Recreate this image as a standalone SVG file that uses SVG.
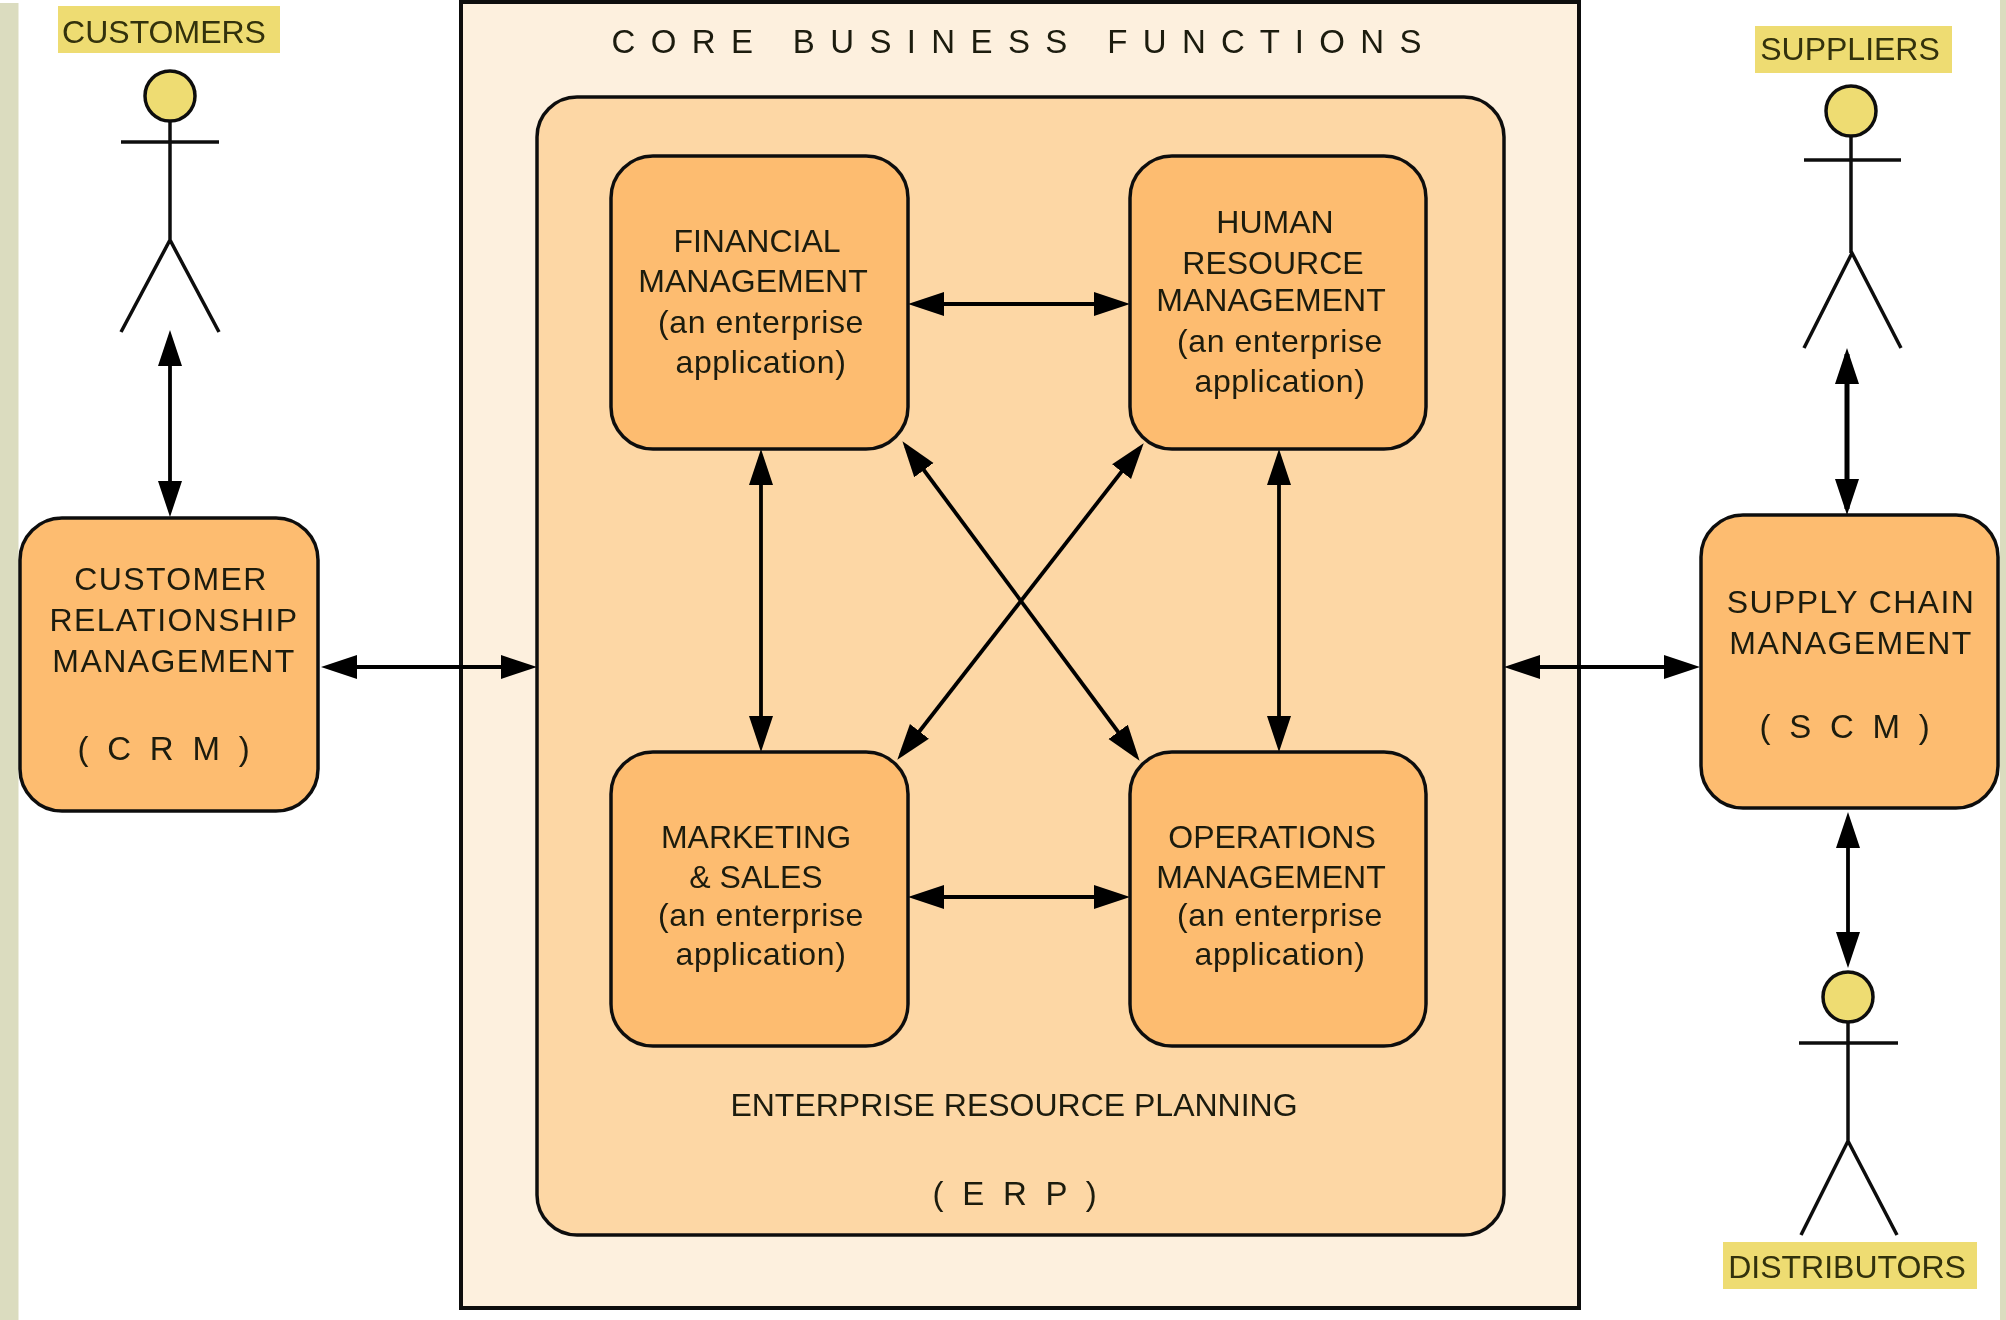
<svg xmlns="http://www.w3.org/2000/svg" width="2006" height="1320" viewBox="0 0 2006 1320">
<style>
text{font-family:"Liberation Sans",Arial,sans-serif;font-size:32px;fill:#1a1a10;text-anchor:middle}
.lc{letter-spacing:.6px}
.w{letter-spacing:1.400px}
.lab{font-size:32px;fill:#33300a}
.sp{white-space:pre;font-size:33px;letter-spacing:4.800px}
.title{white-space:pre;font-size:33px;letter-spacing:3.100px}
.box{fill:#fdbc6f;stroke:#111;stroke-width:3.5}
.tag{fill:#eedc72}
.head{fill:#eedc72;stroke:#111;stroke-width:3.5}
.fig{fill:none;stroke:#111;stroke-width:3.5}
.c{fill:none;stroke:#000;stroke-width:3.8;marker-start:url(#a);marker-end:url(#a)}
.c2{stroke-width:5}
</style>
<defs>
<marker id="a" markerUnits="userSpaceOnUse" markerWidth="40" markerHeight="30" refX="30" refY="15" orient="auto-start-reverse"><path d="M0 3L36 15L0 27Z" fill="#000"/></marker>
<filter id="soft" x="0" y="0" width="100%" height="100%"><feGaussianBlur stdDeviation="0.6"/></filter>
</defs>
<rect width="2006" height="1320" fill="#fff"/>
<g filter="url(#soft)">
<rect x="0" y="3" width="18.500" height="1317" fill="#dbdcbf"/>
<rect x="2000" y="0" width="6" height="1320" fill="#dbdcbf"/>
<g id="core">
<rect x="461" y="2" width="1118" height="1306" fill="#fdf0de" stroke="#111" stroke-width="4"/>
<text class="title" x="1018" y="53">C O R E   B U S I N E S S   F U N C T I O N S</text>
</g>
<g id="erp">
<rect x="537" y="97" width="967" height="1138" rx="40" fill="#fdd7a5" stroke="#111" stroke-width="3.500"/>
<text x="1014" y="1116">ENTERPRISE RESOURCE PLANNING</text>
<text class="sp" x="1017" y="1205">( E R P )</text>
</g>
<g id="financial">
<rect class="box" x="611" y="156" width="297" height="293" rx="42"/>
<text x="757" y="252">FINANCIAL</text><text x="753" y="292">MANAGEMENT</text><text class="lc" x="761" y="333">(an enterprise</text><text class="lc" x="761" y="373">application)</text>
</g>
<g id="hr">
<rect class="box" x="1130" y="156" width="296" height="293" rx="42"/>
<text x="1275" y="233">HUMAN</text><text x="1273" y="274">RESOURCE</text><text x="1271" y="311">MANAGEMENT</text><text class="lc" x="1280" y="352">(an enterprise</text><text class="lc" x="1280" y="392">application)</text>
</g>
<g id="marketing">
<rect class="box" x="611" y="752" width="297" height="294" rx="42"/>
<text x="756" y="848">MARKETING</text><text x="756" y="888">&amp; SALES</text><text class="lc" x="761" y="926">(an enterprise</text><text class="lc" x="761" y="965">application)</text>
</g>
<g id="operations">
<rect class="box" x="1130" y="752" width="296" height="294" rx="42"/>
<text x="1272" y="848">OPERATIONS</text><text x="1271" y="888">MANAGEMENT</text><text class="lc" x="1280" y="926">(an enterprise</text><text class="lc" x="1280" y="965">application)</text>
</g>
<g id="crm">
<rect class="box" x="20" y="518" width="298" height="293" rx="42"/>
<text class="w" x="171" y="590">CUSTOMER</text><text class="w" x="174" y="631">RELATIONSHIP</text><text class="w" x="174" y="672">MANAGEMENT</text><text class="sp" x="166" y="760">( C R M )</text>
</g>
<g id="scm">
<rect class="box" x="1701" y="515" width="297" height="293" rx="42"/>
<text class="w" x="1851" y="613">SUPPLY CHAIN</text><text class="w" x="1851" y="654">MANAGEMENT</text><text class="sp" x="1847" y="738">( S C M )</text>
</g>
<g id="customers">
<rect class="tag" x="58" y="6" width="222" height="47"/>
<text class="lab" x="164" y="43">CUSTOMERS</text>
<circle class="head" cx="170" cy="96" r="25"/>
<path class="fig" d="M170 121V240M121 142H219M121 332L170 240L219 332"/>
</g>
<g id="suppliers">
<rect class="tag" x="1755" y="26" width="197" height="47"/>
<text class="lab" x="1850" y="60">SUPPLIERS</text>
<circle class="head" cx="1851" cy="111" r="25"/>
<path class="fig" d="M1851 136V253M1804 160H1901M1804 348L1852 253L1901 348"/>
</g>
<g id="distributors">
<rect class="tag" x="1723" y="1242" width="254" height="47"/>
<text class="lab" x="1847" y="1278">DISTRIBUTORS</text>
<circle class="head" cx="1848" cy="997" r="25"/>
<path class="fig" d="M1848 1022V1141M1799 1043H1898M1801 1235L1848 1141L1897 1235"/>
</g>
<g id="connectors">
<path class="c" d="M170 336V511"/>
<path class="c" d="M327 667H531"/>
<path class="c" d="M1510 667H1694"/>
<path class="c" d="M914 304H1124"/>
<path class="c" d="M914 897H1124"/>
<path class="c" d="M761 455V746"/>
<path class="c" d="M1279 455V746"/>
<path class="c" d="M906 446L1136 756"/>
<path class="c" d="M1140 448L901 755"/>
<path class="c c2" d="M1847 354V509"/>
<path class="c" d="M1848 818V962"/>
</g>
</g>
</svg>
